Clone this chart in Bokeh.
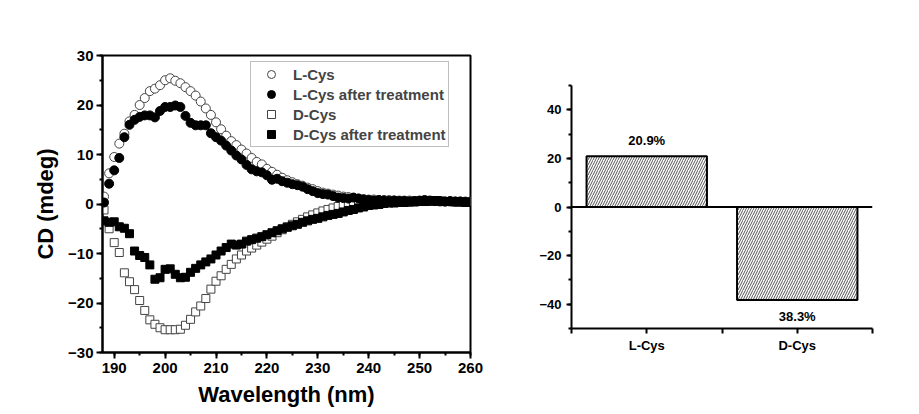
from bokeh.plotting import figure
from bokeh.layouts import row, column
from bokeh.models import (Range1d, SingleIntervalTicker, FixedTicker, Legend, LegendItem,
                          ColumnDataSource, Span)
from bokeh.core.properties import value
from bokeh.embed import file_html
from bokeh.resources import INLINE

FONT = "Liberation Sans"

# ---------------- data: CD spectra (1 nm steps, 188-260 nm) ----------------
wavelength = list(range(188, 261))

l_cys = [1.5, 6.2, 9.5, 12.2, 14.2, 16.7, 18.0, 20.0, 21.4, 22.8,
         23.3, 24.0, 25.0, 25.4, 24.9, 24.4, 23.6, 22.8, 21.9, 20.7,
         19.3, 18.0, 16.5, 15.1, 13.8, 12.7, 11.9, 11.0, 10.2, 9.3,
         8.5, 8.0, 7.1, 6.5, 5.9, 5.3, 4.8, 4.4, 4.0, 3.7,
         3.3, 3.0, 2.6, 2.3, 2.1, 1.9, 1.7, 1.5, 1.4, 1.2,
         1.1, 1.0, 0.9, 0.9, 0.8, 0.8, 0.8, 0.7, 0.7, 0.7,
         0.7, 0.6, 0.6, 0.6, 0.6, 0.6, 0.5, 0.5, 0.5, 0.5,
         0.5, 0.5, 0.5]

l_cys_treated = [0.3, 4.1, 6.8, 9.3, 13.5, 16.0, 17.0, 17.6, 17.9, 17.9,
                 17.5, 18.8, 19.6, 19.6, 19.9, 19.6, 17.8, 16.4, 15.9, 15.9,
                 15.9, 14.3, 13.5, 12.8, 11.8, 10.8, 9.8, 9.0, 7.9, 7.0,
                 6.6, 6.4, 5.8, 4.9, 5.1, 4.6, 4.3, 4.0, 3.8, 3.5,
                 3.0, 2.6, 2.2, 2.0, 1.9, 1.6, 1.3, 1.2, 1.1, 1.3,
                 1.1, 0.9, 0.8, 0.7, 0.8, 0.7, 0.6, 0.7, 0.6, 0.6,
                 0.5, 0.6, 0.7, 0.8, 0.7, 0.6, 0.6, 0.5, 0.6, 0.5,
                 0.5, 0.4, 0.4]

d_cys = [-1.2, -5.0, -7.8, -9.8, -13.9, -15.7, -17.3, -19.5, -21.5, -23.4,
         -24.3, -25.0, -25.4, -25.4, -25.4, -25.3, -24.5, -23.3, -21.8, -20.6,
         -19.1, -17.2, -15.6, -14.5, -13.2, -12.2, -11.1, -10.3, -9.5, -8.9,
         -8.3, -7.7, -7.1, -6.5, -5.8, -5.2, -4.6, -4.1, -3.6, -3.1,
         -2.6, -2.2, -1.8, -1.4, -1.1, -0.8, -0.5, -0.2, 0.0, 0.2,
         0.4, 0.5, 0.5, 0.6, 0.6, 0.6, 0.6, 0.6, 0.6, 0.6,
         0.6, 0.6, 0.6, 0.6, 0.6, 0.5, 0.5, 0.5, 0.5, 0.5,
         0.5, 0.5, 0.5]

d_cys_treated = [-3.4, -3.7, -3.6, -4.6, -4.9, -6.0, -9.5, -10.4, -10.8, -12.3,
                 -15.2, -14.9, -13.2, -13.1, -14.2, -14.9, -14.8, -13.8, -13.0, -12.3,
                 -11.7, -11.1, -10.3, -9.5, -8.8, -8.1, -8.3, -8.1, -7.5, -7.2,
                 -6.9, -6.6, -6.2, -5.8, -5.4, -5.0, -4.7, -4.4, -4.1, -3.7,
                 -3.4, -3.1, -2.9, -2.6, -2.3, -2.1, -1.9, -1.6, -1.3, -1.1,
                 -0.8, -0.6, -0.3, -0.2, -0.1, 0.1, 0.2, 0.2, 0.3, 0.3,
                 0.4, 0.4, 0.5, 0.5, 0.6, 0.7, 0.6, 0.5, 0.5, 0.4,
                 0.4, 0.3, 0.3]

series_labels = ["L-Cys", "L-Cys after treatment", "D-Cys", "D-Cys after treatment"]

# ---------------- data: bar chart ----------------
bar_categories = ["L-Cys", "D-Cys"]
bar_values = [20.9, -38.3]
bar_labels = ["20.9%", "38.3%"]

# ================= left figure =================
p = figure(width=508, height=410, output_backend="svg", toolbar_location=None,
           x_range=Range1d(187.7, 260), y_range=Range1d(-30, 30),
           min_border_left=102, min_border_right=38, min_border_top=55, min_border_bottom=58)
p.grid.visible = False
p.outline_line_color = "black"
p.outline_line_width = 2
p.background_fill_color = "white"
p.border_fill_color = "white"

src = ColumnDataSource(dict(x=wavelength, l=l_cys, lt=l_cys_treated, d=d_cys, dt=d_cys_treated))
r_l = p.scatter("x", "l", source=src, marker="circle", size=9, fill_color="white",
                line_color="#444444", line_width=1)
r_d = p.scatter("x", "d", source=src, marker="square", size=8, fill_color="white",
                line_color="#444444", line_width=1)
r_lt = p.scatter("x", "lt", source=src, marker="circle", size=9, fill_color="black",
                 line_color="black")
r_dt = p.scatter("x", "dt", source=src, marker="square", size=8, fill_color="black",
                 line_color="black")

for ax in (p.xaxis[0], p.yaxis[0]):
    ax.axis_line_width = 2
    ax.major_tick_line_width = 2
    ax.minor_tick_line_width = 2
    ax.major_tick_out = 6
    ax.major_tick_in = 0
    ax.minor_tick_out = 3
    ax.minor_tick_in = 0
    ax.major_label_text_font = FONT
    ax.major_label_text_font_style = "bold"
    ax.major_label_text_font_size = "15px"
    ax.major_label_text_color = "black"
    ax.axis_label_text_font = FONT
    ax.axis_label_text_font_style = "bold"
    ax.axis_label_text_font_size = "22px"
    ax.axis_label_text_color = "black"

p.xaxis[0].ticker = SingleIntervalTicker(interval=10, num_minor_ticks=2)
p.yaxis[0].ticker = SingleIntervalTicker(interval=10, num_minor_ticks=2)
p.xaxis[0].axis_label = "Wavelength (nm)"
p.yaxis[0].axis_label = "CD (mdeg)"
p.xaxis[0].major_label_standoff = 4
p.yaxis[0].major_label_standoff = 3
p.xaxis[0].axis_label_standoff = 6
p.yaxis[0].axis_label_standoff = 7

legend = Legend(items=[LegendItem(label=series_labels[0], renderers=[r_l]),
                       LegendItem(label=series_labels[1], renderers=[r_lt]),
                       LegendItem(label=series_labels[2], renderers=[r_d]),
                       LegendItem(label=series_labels[3], renderers=[r_dt])],
                location=(148, 205))
legend.margin = 0
legend.padding = 2
legend.spacing = 0
legend.label_height = 20
legend.glyph_height = 20
legend.glyph_width = 36
legend.label_standoff = 4
legend.label_text_font = FONT
legend.label_text_font_style = "bold"
legend.label_text_font_size = "15px"
legend.border_line_color = "#808080"
legend.border_line_width = 1
legend.background_fill_color = "white"
legend.background_fill_alpha = 1
p.add_layout(legend, "center")

# ================= right figure =================
q = figure(width=403, height=410, output_backend="svg", toolbar_location=None,
           x_range=Range1d(0, len(bar_categories)), y_range=Range1d(-50, 50),
           min_border_left=63, min_border_right=39, min_border_top=85, min_border_bottom=82)
q.grid.visible = False
q.outline_line_color = None
q.background_fill_color = "white"
q.border_fill_color = "white"

bar_x = [i + 0.5 for i in range(len(bar_categories))]
q.vbar(x=bar_x, top=bar_values, bottom=0, width=0.8, fill_color="white",
       line_color="black", line_width=2, hatch_pattern="/", hatch_color="#555555",
       hatch_scale=5, hatch_weight=1)
q.add_layout(Span(location=0, dimension="width", line_color="black", line_width=2))

pos = [(x, v, t) for x, v, t in zip(bar_x, bar_values, bar_labels) if v >= 0]
neg = [(x, v, t) for x, v, t in zip(bar_x, bar_values, bar_labels) if v < 0]
if pos:
    q.text(x=[a[0] for a in pos], y=[a[1] for a in pos], text=[a[2] for a in pos],
           text_align="center", text_baseline="bottom", y_offset=-8,
           text_font=value(FONT), text_font_style="bold", text_font_size="13px", text_color="black")
if neg:
    q.text(x=[a[0] for a in neg], y=[a[1] for a in neg], text=[a[2] for a in neg],
           text_align="center", text_baseline="top", y_offset=9,
           text_font=value(FONT), text_font_style="bold", text_font_size="13px", text_color="black")

for ax in (q.xaxis[0], q.yaxis[0]):
    ax.axis_line_width = 2
    ax.major_tick_line_width = 2
    ax.minor_tick_line_width = 2
    ax.major_tick_out = 5
    ax.major_tick_in = 0
    ax.minor_tick_in = 0
    ax.major_label_text_font = FONT
    ax.major_label_text_font_style = "bold"
    ax.major_label_text_font_size = "13px"
    ax.major_label_text_color = "black"

q.yaxis[0].ticker = SingleIntervalTicker(interval=20, num_minor_ticks=2)
q.yaxis[0].minor_tick_out = 3
q.yaxis[0].major_label_standoff = 5
q.xaxis[0].ticker = FixedTicker(ticks=bar_x, minor_ticks=list(range(len(bar_categories) + 1)))
q.xaxis[0].minor_tick_out = 5
q.xaxis[0].major_label_overrides = {x: c for x, c in zip(bar_x, bar_categories)}
q.xaxis[0].major_label_standoff = 4

layout = row(column(p), column(q))
open("out.html", "w").write(file_html(layout, INLINE))
